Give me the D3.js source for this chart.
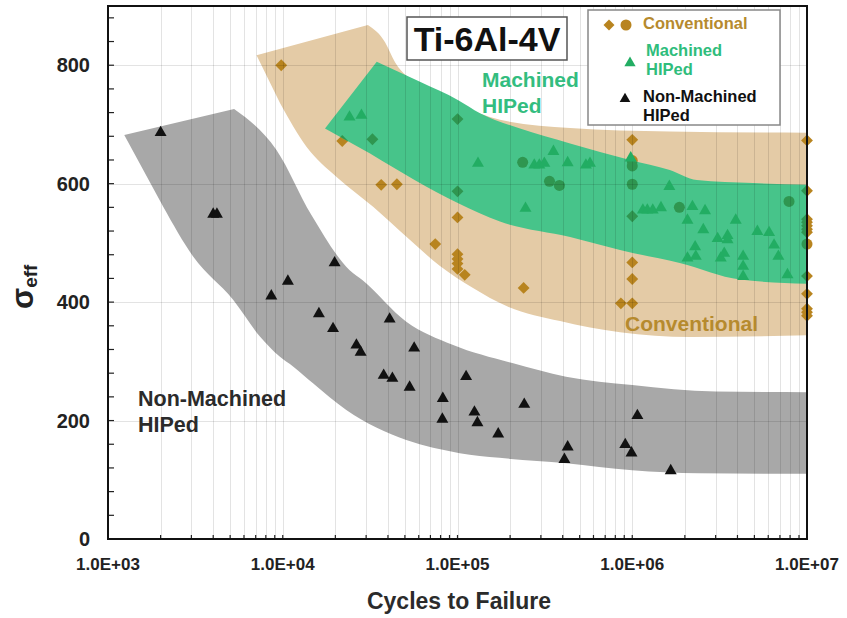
<!DOCTYPE html>
<html>
<head>
<meta charset="utf-8">
<script src="https://cdn.jsdelivr.net/npm/d3@7"></script>
<style>
  body { margin: 0; background: #fff; }
  svg { display: block; font-family: "Liberation Sans", Arial, sans-serif; }
</style>
</head>
<body>
<div id="chart"></div>
<script>
// axis ticks
const xTickValues = [1e3, 1e4, 1e5, 1e6, 1e7];
const xTickLabels = ["1.0E+03", "1.0E+04", "1.0E+05", "1.0E+06", "1.0E+07"];
const yTickValues = [0, 200, 400, 600, 800];

// scatter bands, [cycles, stress]
const tanUpper = [[7080, 817], [30700, 868], [38500, 839], [43900, 805], [61000, 767], [103000, 733],
  [175000, 708], [441000, 694], [1640000, 688], [1e7, 686]];
const tanLower = [[1e7, 344], [2140000, 341], [851000, 349], [386000, 368], [192000, 393], [122700, 424],
  [79400, 461], [51200, 510], [32900, 561], [20400, 611], [13700, 662], [9640, 736]];

const greenUpper = [[17450, 693], [34500, 806], [61000, 772], [101000, 741], [134500, 719],
  [228000, 693], [441000, 668], [971000, 640], [1640000, 623], [2340000, 606], [4910000, 601], [1e7, 598]];
const greenLower = [[1e7, 431], [4140000, 438], [1870000, 466], [851000, 488], [441000, 510],
  [175000, 536], [101000, 567], [31600, 651]];

const grayUpper = [[1239, 682], [5268, 726], [9204, 657], [14590, 547], [24150, 454], [28650, 437],
  [50930, 367], [93640, 328], [206000, 297], [418000, 274], [1e6, 260], [3e6, 249], [1e7, 248]];
const grayLower = [[1e7, 110], [2410000, 111], [1e6, 116], [418000, 128], [174000, 137], [103000, 145],
  [50930, 167], [23100, 218], [14900, 263], [11500, 291], [9600, 308], [7400, 342], [5200, 404],
  [3070, 477], [2070, 561]];

// data points
const conventionalDiamonds = [[9800, 800], [21900, 672], [32600, 675], [36600, 598], [45000, 599],
  [74600, 498], [1e5, 709], [1e5, 587], [1e5, 543], [1e5, 481], [1e5, 473], [1e5, 465], [1e5, 456],
  [110000, 446], [239000, 424],
  [1e6, 674], [1e6, 545], [1e6, 467], [1e6, 439], [1e6, 398], [861000, 398],
  [1e7, 673], [1e7, 588], [1e7, 540], [1e7, 535], [1e7, 529], [1e7, 523], [1e7, 518], [1e7, 444],
  [1e7, 414], [1e7, 389], [1e7, 383], [1e7, 377]];
const conventionalCircles = [[236000, 636], [336000, 604], [383000, 597], [1e6, 639], [1e6, 630],
  [1e6, 599], [1860000, 560], [7890000, 570], [1e7, 498]];

const machinedHIPed = [[24100, 714], [28200, 717], [131000, 636], [245000, 560], [275000, 633],
  [294000, 633], [314000, 636], [354000, 656], [427000, 637], [543000, 633], [573000, 636],
  [980000, 645], [1150000, 557], [1220000, 557], [1310000, 557], [1460000, 561], [1630000, 597],
  [2070000, 540], [2070000, 476], [2210000, 563], [2290000, 495], [2310000, 479], [2550000, 524],
  [2610000, 556], [3080000, 509], [3210000, 476], [3360000, 484], [3510000, 514], [3510000, 507],
  [3910000, 540], [4310000, 479], [4310000, 462], [4310000, 445], [5200000, 521], [6070000, 519],
  [6480000, 498], [6860000, 479], [7730000, 448]];

const nonMachinedHIPed = [[2000, 688], [4000, 550], [4200, 550], [8600, 412], [10700, 437],
  [16100, 382], [19400, 357], [19800, 468], [26400, 329], [27900, 317], [37800, 278], [40900, 373],
  [42400, 273], [53200, 258], [56500, 324], [81900, 204], [82400, 239], [112000, 276], [125000, 216],
  [130000, 198], [171000, 179], [241000, 229], [409000, 136], [427000, 157], [912000, 161],
  [990000, 147], [1070000, 210], [1660000, 117]];

const W = 847, H = 618;
const plotL = 108, plotR = 807, plotT = 6, plotB = 539;

const gold = "#b8841f", greenMark = "#22ad63", darkGreen = "#2f9650";

const svg = d3.select("#chart").append("svg")
  .attr("width", W).attr("height", H);

const x = d3.scaleLog().domain([1e3, 1e7]).range([plotL, plotR]);
const y = d3.scaleLinear().domain([0, 900]).range([plotB, plotT]);

const edge = d3.line().x(d => x(d[0])).y(d => y(d[1])).curve(d3.curveMonotoneX);
// first segment of the upper edge is straight so the band keeps its corner
const bandPath = (upper, lower) =>
  `M${x(upper[0][0])},${y(upper[0][1])}L` + edge(upper.slice(1)).slice(1) +
  "L" + edge(lower).slice(1) + "Z";

// bands
svg.append("path").attr("d", bandPath(tanUpper, tanLower)).attr("fill", "#e4cba6");
svg.append("path").attr("d", bandPath(grayUpper, grayLower)).attr("fill", "#a8a8a8");

const minorX = [];
for (let e = 3; e < 7; e++) for (let m = 1; m < 10; m++) minorX.push(m * Math.pow(10, e));
minorX.push(1e7);

const symbol = (type, size) => d3.symbol().type(type).size(size)();

function drawConventional(g, color) {
  g.selectAll(".dia").data(conventionalDiamonds).join("path")
    .attr("d", symbol(d3.symbolSquare, 70))
    .attr("transform", d => `translate(${x(d[0])},${y(d[1])}) rotate(45)`)
    .attr("fill", color);
  g.selectAll(".cir").data(conventionalCircles).join("circle")
    .attr("cx", d => x(d[0])).attr("cy", d => y(d[1])).attr("r", 5.5)
    .attr("fill", color);
}

drawConventional(svg.append("g"), gold);

// green band over the conventional points
const greenD = bandPath(greenUpper, greenLower);
svg.append("defs").append("clipPath").attr("id", "greenClip")
  .append("path").attr("d", greenD);
svg.append("path").attr("d", greenD).attr("fill", "#47c48a");
drawConventional(svg.append("g").attr("clip-path", "url(#greenClip)"), darkGreen);

// gridlines
const grid = svg.append("g").attr("stroke", "rgba(0,0,0,0.11)").attr("stroke-width", 1);
grid.selectAll(".vx").data(minorX).join("line")
  .attr("x1", d => Math.round(x(d)) + 0.5).attr("x2", d => Math.round(x(d)) + 0.5)
  .attr("y1", plotT).attr("y2", plotB);
grid.selectAll(".hy").data(yTickValues.slice(1)).join("line")
  .attr("x1", plotL).attr("x2", plotR)
  .attr("y1", d => Math.round(y(d)) + 0.5).attr("y2", d => Math.round(y(d)) + 0.5);

// axis ticks (inward)
const ticks = svg.append("g").attr("stroke", "#222").attr("stroke-width", 1.2);
ticks.selectAll(".tx").data(minorX).join("line")
  .attr("x1", d => x(d)).attr("x2", d => x(d))
  .attr("y1", plotB).attr("y2", plotB - 4);
ticks.selectAll(".ty").data(d3.range(0, 900, 40)).join("line")
  .attr("x1", plotL).attr("x2", plotL + 6)
  .attr("y1", d => y(d)).attr("y2", d => y(d));

// frame
svg.append("rect").attr("x", plotL).attr("y", plotT)
  .attr("width", plotR - plotL).attr("height", plotB - plotT)
  .attr("fill", "none").attr("stroke", "#111").attr("stroke-width", 2);

// triangles
svg.append("g").selectAll("path").data(machinedHIPed).join("path")
  .attr("d", symbol(d3.symbolTriangle, 62))
  .attr("transform", d => `translate(${x(d[0])},${y(d[1]) + 1})`)
  .attr("fill", greenMark);
svg.append("g").selectAll("path").data(nonMachinedHIPed).join("path")
  .attr("d", symbol(d3.symbolTriangle, 62))
  .attr("transform", d => `translate(${x(d[0])},${y(d[1]) + 1})`)
  .attr("fill", "#111");

// tick labels
svg.append("g").selectAll("text").data(yTickValues).join("text")
  .attr("x", 90).attr("y", d => y(d) + 7)
  .attr("text-anchor", "end").attr("font-size", 20).attr("font-weight", "bold").attr("fill", "#222")
  .text(d => d);
svg.append("g").selectAll("text").data(xTickValues).join("text")
  .attr("x", d => x(d)).attr("y", 570)
  .attr("text-anchor", "middle").attr("font-size", 17).attr("font-weight", "bold").attr("fill", "#222")
  .text((d, i) => xTickLabels[i]);

// axis titles
svg.append("text").attr("x", 459).attr("y", 609)
  .attr("text-anchor", "middle").attr("font-size", 23).attr("font-weight", "bold").attr("fill", "#2b2b2b")
  .text("Cycles to Failure");
const yt = svg.append("text").attr("transform", "translate(33,309) rotate(-90)")
  .attr("font-weight", "bold").attr("fill", "#222");
yt.append("tspan").attr("font-size", 31).text("σ");
yt.append("tspan").attr("font-size", 19).attr("dy", 4).text("eff");

// band labels
const lbl = (tx, ty, lines, color, size) => {
  const t = svg.append("text").attr("x", tx).attr("y", ty)
    .attr("font-size", size).attr("font-weight", "bold").attr("fill", color);
  lines.forEach((s, i) => t.append("tspan").attr("x", tx).attr("dy", i ? 26 : 0).text(s));
};
lbl(482, 87, ["Machined", "HIPed"], "#33bd7f", 21);
lbl(625, 331, ["Conventional"], "#b68a2e", 21);
lbl(138, 406, ["Non-Machined", "HIPed"], "#2b2b2b", 21.5);

// title box
svg.append("rect").attr("x", 407).attr("y", 17).attr("width", 160).attr("height", 43)
  .attr("fill", "#fff").attr("stroke", "#555").attr("stroke-width", 1.5);
svg.append("text").attr("x", 487).attr("y", 51).attr("text-anchor", "middle")
  .attr("font-size", 34).attr("font-weight", "bold").attr("fill", "#111")
  .text("Ti-6Al-4V");

// legend
const lg = svg.append("g");
lg.append("rect").attr("x", 588).attr("y", 10).attr("width", 192).attr("height", 115)
  .attr("fill", "#fff").attr("stroke", "#888").attr("stroke-width", 1.5);
lg.append("path").attr("d", symbol(d3.symbolSquare, 60))
  .attr("transform", "translate(609,25) rotate(45)").attr("fill", gold);
lg.append("circle").attr("cx", 626).attr("cy", 25).attr("r", 5.5).attr("fill", gold);
lg.append("path").attr("d", symbol(d3.symbolTriangle, 55))
  .attr("transform", "translate(630,63)").attr("fill", greenMark);
lg.append("path").attr("d", symbol(d3.symbolTriangle, 50))
  .attr("transform", "translate(625,99)").attr("fill", "#111");
const legText = (tx, ty, lines, color) => {
  const t = lg.append("text").attr("x", tx).attr("y", ty)
    .attr("font-size", 16.5).attr("font-weight", "bold").attr("fill", color);
  lines.forEach((s, i) => t.append("tspan").attr("x", tx).attr("dy", i ? 19 : 0).text(s));
};
legText(643, 29, ["Conventional"], "#b68a2e");
legText(646, 56, ["Machined", "HIPed"], "#2fbd7c");
legText(643, 102, ["Non-Machined", "HIPed"], "#111");
</script>
</body>
</html>
